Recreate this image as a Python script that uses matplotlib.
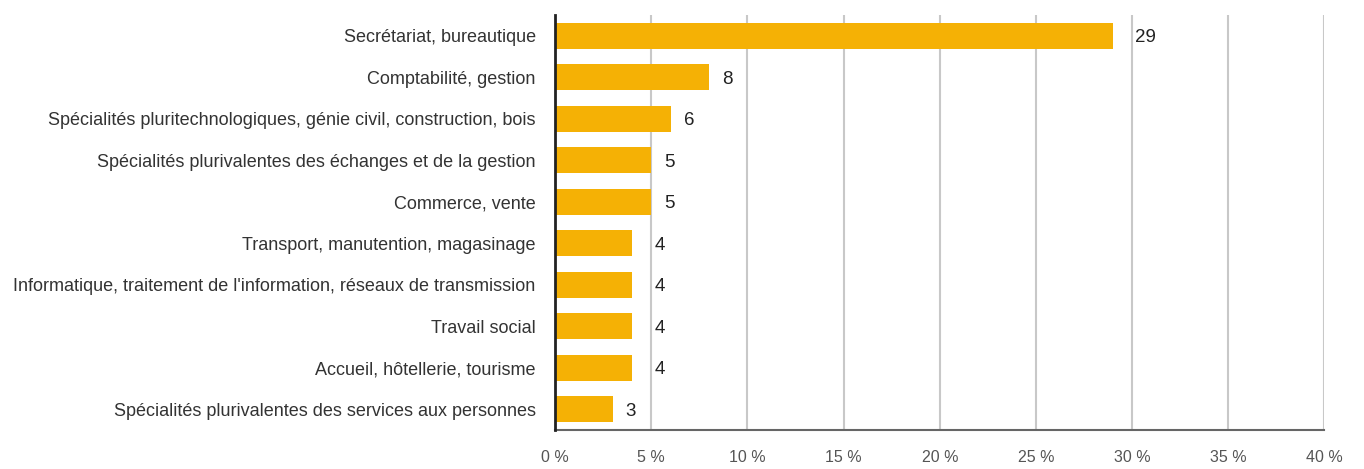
import matplotlib
matplotlib.use("Agg")
import matplotlib.pyplot as plt

categories = [
    "Secrétariat, bureautique",
    "Comptabilité, gestion",
    "Spécialités pluritechnologiques, génie civil, construction, bois",
    "Spécialités plurivalentes des échanges et de la gestion",
    "Commerce, vente",
    "Transport, manutention, magasinage",
    "Informatique, traitement de l'information, réseaux de transmission",
    "Travail social",
    "Accueil, hôtellerie, tourisme",
    "Spécialités plurivalentes des services aux personnes",
]
values = [29, 8, 6, 5, 5, 4, 4, 4, 4, 3]
xticks = [0, 5, 10, 15, 20, 25, 30, 35, 40]
xtick_labels = ["0 %", "5 %", "10 %", "15 %", "20 %", "25 %", "30 %", "35 %", "40 %"]

plt.rcParams['font.family'] = ['Liberation Sans', 'DejaVu Sans']

fig = plt.figure(figsize=(13.64, 4.69), dpi=100)
ax = fig.add_axes([0.407, 0.083, 0.564, 0.885])

y = list(range(len(categories)))
ax.barh(y, values, height=0.63, color="#F5B105", zorder=3)
ax.set_ylim(len(categories) - 0.5, -0.5)
ax.set_xlim(0, 40)

ax.set_yticks(y)
ax.set_yticklabels(categories, fontsize=13, color="#333333")
ax.set_xticks(xticks)
ax.set_xticklabels(xtick_labels, fontsize=11.5, color="#555555")
ax.tick_params(axis='both', length=0)
ax.tick_params(axis='y', pad=14)
ax.tick_params(axis='x', pad=14)

# value labels: placed just after the bar, pushed past a gridline if they would overlap it
px = 40 / 770.0  # data units per pixel
for i, v in enumerate(values):
    s = str(v)
    w = 9 * len(s) * px
    x0 = v + 13 * px
    for g in xticks:
        if x0 - 2 * px < g < x0 + w + 2 * px:
            x0 = g + 3 * px
    ax.text(x0, i, s, va='center_baseline', ha='left', fontsize=13.5, color="#222222", zorder=4)

ax.grid(axis='x', color="#c8c8c8", linewidth=1.5, zorder=0)
for s in ['top', 'right']:
    ax.spines[s].set_visible(False)
ax.spines['bottom'].set_color("#666666")
ax.spines['bottom'].set_linewidth(1.5)
ax.spines['left'].set_color("#222222")
ax.spines['left'].set_linewidth(2)
ax.spines['left'].set_zorder(5)

fig.savefig("out.png", dpi=100, facecolor="white")
